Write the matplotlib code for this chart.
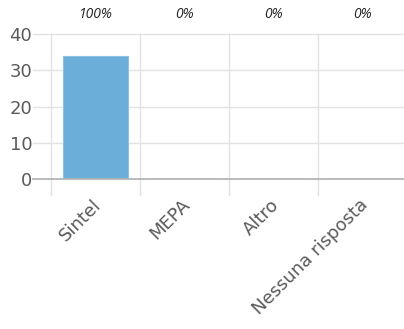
import matplotlib.pyplot as plt

categorie = ["Sintel", "MEPA", "Altro", "Nessuna risposta"]
valori = [34, 0, 0, 0]
percentuali = ["100%", "0%", "0%", "0%"]

W, H = 404, 329
fig = plt.figure(figsize=(W / 100, H / 100), dpi=100)
# area del grafico in pixel: x 51..407, y 34..179
ax = fig.add_axes([51 / W, (H - 179) / H, 356 / W, 145 / H])

x = range(len(categorie))
ax.bar(x, valori, width=0.72, color="#6aaed9", edgecolor="#8cc2e4", linewidth=0.8, zorder=3)

ax.set_xlim(-0.5, len(categorie) - 0.5)
ax.set_ylim(0, 40)

grid_col = "#e2e2e2"
# griglia orizzontale (si estende a sinistra come tacca)
for v in [10, 20, 30, 40]:
    ax.plot([-0.70, len(categorie) - 0.5], [v, v], color=grid_col, lw=1, clip_on=False, zorder=1)
ax.plot([-0.70, len(categorie) - 0.5], [0, 0], color="#b4b4b4", lw=1.3, clip_on=False, zorder=4)
# griglia verticale tra le categorie
for b in [i - 0.5 for i in range(len(categorie))]:
    ax.plot([b, b], [-4.4, 40], color=grid_col, lw=1, clip_on=False, zorder=1)

for s in ax.spines.values():
    s.set_visible(False)
ax.tick_params(length=0)
ax.set_yticks([0, 10, 20, 30, 40])
ax.set_yticklabels(["0", "10", "20", "30", "40"], fontsize=13, color="#5a5a5a",
                   family="DejaVu Sans")
ax.tick_params(axis="y", pad=13.5)
ax.set_xticks(list(x))
ax.set_xticklabels([])

for i, lab in enumerate(categorie):
    ax.text(i - 0.04, -4.6, lab, rotation=45, ha="right", va="top", rotation_mode="anchor",
            fontsize=13, color="#5a5a5a", family="DejaVu Sans")

for i, p in enumerate(percentuali):
    fig.text((51 + 89 * i + 44.5) / W, 1 - 15 / H, p, ha="center", va="center",
             fontsize=10, style="italic", color="#222222", family="Open Sans")

fig.savefig("out.png", dpi=100)
